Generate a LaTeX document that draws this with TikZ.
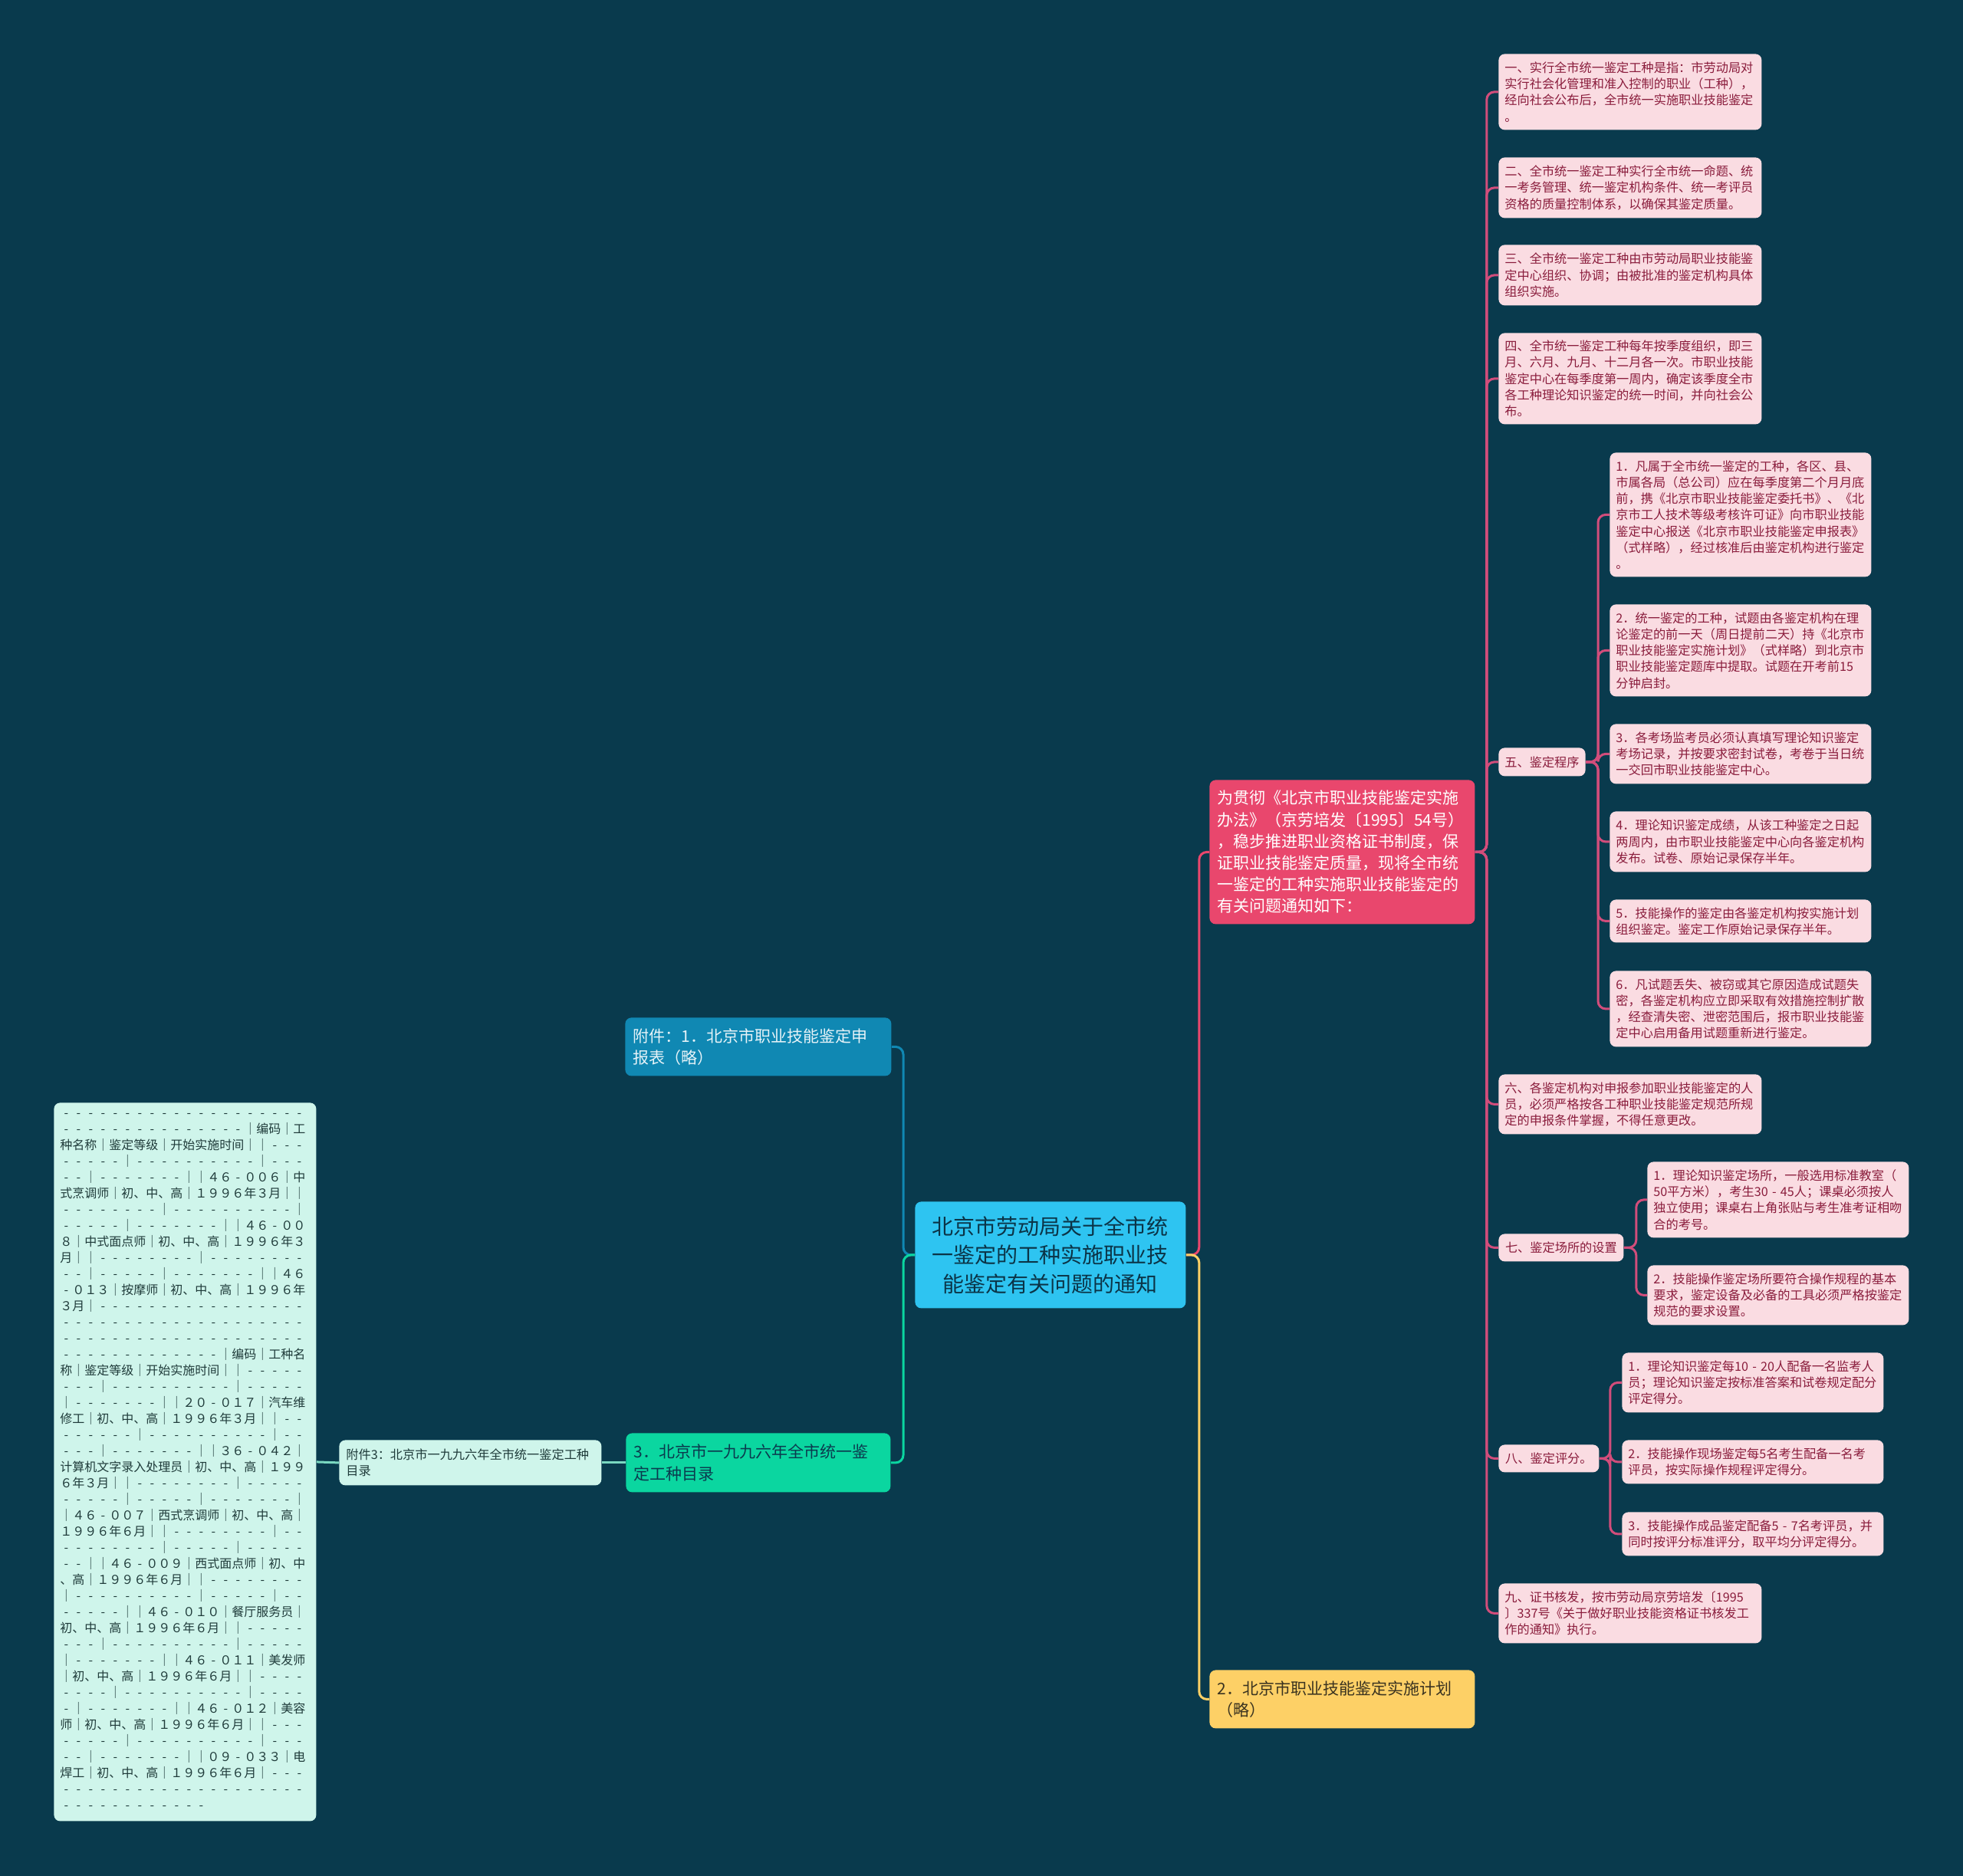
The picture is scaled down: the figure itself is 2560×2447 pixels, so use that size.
\documentclass[tikz,border=0pt]{standalone}
\usepackage{fontspec}
\setmainfont{Noto Sans CJK SC}
\setlength\parindent{0pt}
\newcommand\hy{\makebox[1em]{-}}
\ExplSyntaxOn
\cs_new:Npn \rpd #1 {\prg_replicate:nn {#1} {\hy}}
\ExplSyntaxOff
\definecolor{bgc}{HTML}{093A4D}
\definecolor{rootF}{HTML}{2EC4F1}
\definecolor{rootT}{HTML}{0B3447}
\definecolor{redF}{HTML}{E9476D}
\definecolor{pinkF}{HTML}{FADCE2}
\definecolor{pinkT}{HTML}{8A1C3C}
\definecolor{pinkL}{HTML}{D24D7B}
\definecolor{yelF}{HTML}{FDD066}
\definecolor{yelT}{HTML}{3A3320}
\definecolor{bluF}{HTML}{1088B3}
\definecolor{bluT}{HTML}{E6F3F8}
\definecolor{grnF}{HTML}{0BD6A0}
\definecolor{grnT}{HTML}{0B3A4E}
\definecolor{mintF}{HTML}{CFF5EB}
\definecolor{mintT}{HTML}{1F3B3A}
\definecolor{mintL}{HTML}{7AD8C0}
\tikzset{
  box/.style={rounded corners=4pt, anchor=north west, inner ysep=0pt, align=left},
  pinkbox/.style={box, fill=pinkF, text=pinkT, inner xsep=4pt,
    font=\fontsize{8.1pt}{10.6pt}\selectfont},
  widepink/.style={pinkbox, text width=163.5pt},
  subpink/.style={pinkbox, text width=162.5pt},
  bigbox/.style={box, inner xsep=5pt, font=\fontsize{10.5pt}{14.1pt}\selectfont, text width=163pt},
  conn/.style={line width=1.5pt, rounded corners=5pt},
}
\begin{document}
\begin{tikzpicture}[x=0.5pt,y=-0.5pt]
\fill[bgc] (0,0) rectangle (2560,2447);
\useasboundingbox (0,0) rectangle (2560,2447);

% root
\node[box, fill=rootF, text=rootT, align=center, inner xsep=8pt, text width=160.5pt,
  minimum height=69.5pt, font=\fontsize{14pt}{18.75pt}\selectfont] (root) at (1193,1567)
  {北京市劳动局关于全市统\\一鉴定的工种实施职业技\\能鉴定有关问题的通知};

% left branch
\node[bigbox, fill=bluF, text=bluT, text width=163.5pt, minimum height=38pt] (att1) at (815,1327)
  {附件：1．北京市职业技能鉴定申\\报表（略）};
\node[bigbox, fill=grnF, text=grnT, text width=162.5pt, minimum height=38.5pt] (att3p) at (816,1869)
  {3．北京市一九九六年全市统一鉴\\定工种目录};
\node[box, fill=mintF, text=mintT, inner xsep=4.5pt, text width=162pt, minimum height=29.5pt,
  font=\fontsize{8.1pt}{10.8pt}\selectfont] (att3) at (442,1878)
  {附件3：北京市一九九六年全市统一鉴定工种\\目录};
\node[box, fill=mintF, text=mintT, inner xsep=4pt, text width=163pt, minimum height=468.5pt,
  font=\fontsize{8pt}{10.5pt}\selectfont] (tbl) at (70,1438)
  {\rpd{20}\\
   \rpd{15}｜编码｜工\\
   种名称｜鉴定等级｜开始实施时间｜｜\rpd{3}\\
   \rpd{5}｜\rpd{10}｜\rpd{3}\\
   \rpd{2}｜\rpd{7}｜｜４６\hy００６｜中\\
   式烹调师｜初、中、高｜１９９６年３月｜｜\\
   \rpd{8}｜\rpd{10}｜\\
   \rpd{5}｜\rpd{7}｜｜４６\hy００\\
   ８｜中式面点师｜初、中、高｜１９９６年３\\
   月｜｜\rpd{8}｜\rpd{8}\\
   \rpd{2}｜\rpd{5}｜\rpd{7}｜｜４６\\
   \hy０１３｜按摩师｜初、中、高｜１９９６年\\
   ３月｜\rpd{17}\\
   \rpd{20}\\
   \rpd{20}\\
   \rpd{13}｜编码｜工种名\\
   称｜鉴定等级｜开始实施时间｜｜\rpd{5}\\
   \rpd{3}｜\rpd{10}｜\rpd{5}\\
   ｜\rpd{7}｜｜２０\hy０１７｜汽车维\\
   修工｜初、中、高｜１９９６年３月｜｜\rpd{2}\\
   \rpd{6}｜\rpd{10}｜\rpd{2}\\
   \rpd{3}｜\rpd{7}｜｜３６\hy０４２｜\\
   计算机文字录入处理员｜初、中、高｜１９９\\
   ６年３月｜｜\rpd{8}｜\rpd{5}\\
   \rpd{5}｜\rpd{5}｜\rpd{7}｜\\
   ｜４６\hy００７｜西式烹调师｜初、中、高｜\\
   １９９６年６月｜｜\rpd{8}｜\rpd{2}\\
   \rpd{8}｜\rpd{5}｜\rpd{5}\\
   \rpd{2}｜｜４６\hy００９｜西式面点师｜初、中\\
   、高｜１９９６年６月｜｜\rpd{8}\\
   ｜\rpd{10}｜\rpd{5}｜\rpd{2}\\
   \rpd{5}｜｜４６\hy０１０｜餐厅服务员｜\\
   初、中、高｜１９９６年６月｜｜\rpd{5}\\
   \rpd{3}｜\rpd{10}｜\rpd{5}\\
   ｜\rpd{7}｜｜４６\hy０１１｜美发师\\
   ｜初、中、高｜１９９６年６月｜｜\rpd{4}\\
   \rpd{4}｜\rpd{10}｜\rpd{4}\\
   \hy｜\rpd{7}｜｜４６\hy０１２｜美容\\
   师｜初、中、高｜１９９６年６月｜｜\rpd{3}\\
   \rpd{5}｜\rpd{10}｜\rpd{3}\\
   \rpd{2}｜\rpd{7}｜｜０９\hy０３３｜电\\
   焊工｜初、中、高｜１９９６年６月｜\rpd{3}\\
   \rpd{20}\\
   \rpd{12}};

% right branch
\node[bigbox, fill=redF, text=white, minimum height=94pt] (red) at (1577,1017)
  {为贯彻《北京市职业技能鉴定实施\\办法》（京劳培发〔1995〕54号）\\，稳步推进职业资格证书制度，保\\证职业技能鉴定质量，现将全市统\\一鉴定的工种实施职业技能鉴定的\\有关问题通知如下：};
\node[bigbox, fill=yelF, text=yelT, minimum height=38pt] (plan) at (1577,2178)
  {2．北京市职业技能鉴定实施计划\\（略）};

% level 3 (pink)
\node[widepink, minimum height=49.5pt] (p1) at (1954,70)
  {一、实行全市统一鉴定工种是指：市劳动局对\\实行社会化管理和准入控制的职业（工种），\\经向社会公布后，全市统一实施职业技能鉴定\\。};
\node[widepink, minimum height=39.5pt] (p2) at (1954,205)
  {二、全市统一鉴定工种实行全市统一命题、统\\一考务管理、统一鉴定机构条件、统一考评员\\资格的质量控制体系，以确保其鉴定质量。};
\node[widepink, minimum height=39.5pt] (p3) at (1954,319)
  {三、全市统一鉴定工种由市劳动局职业技能鉴\\定中心组织、协调；由被批准的鉴定机构具体\\组织实施。};
\node[widepink, minimum height=59.5pt] (p4) at (1954,434)
  {四、全市统一鉴定工种每年按季度组织，即三\\月、六月、九月、十二月各一次。市职业技能\\鉴定中心在每季度第一周内，确定该季度全市\\各工种理论知识鉴定的统一时间，并向社会公\\布。};
\node[pinkbox, minimum height=18.5pt, minimum width=56.5pt] (p5) at (1954,975)
  {五、鉴定程序};
\node[widepink, minimum height=39pt] (p6) at (1954,1401)
  {六、各鉴定机构对申报参加职业技能鉴定的人\\员，必须严格按各工种职业技能鉴定规范所规\\定的申报条件掌握，不得任意更改。};
\node[pinkbox, minimum height=18pt, minimum width=81.5pt] (p7) at (1954,1609)
  {七、鉴定场所的设置};
\node[pinkbox, minimum height=18pt, minimum width=65.5pt] (p8) at (1954,1884)
  {八、鉴定评分。};
\node[widepink, minimum height=39pt] (p9) at (1954,2065)
  {九、证书核发，按市劳动局京劳培发〔1995\\〕337号《关于做好职业技能资格证书核发工\\作的通知》执行。};

% level 4 under 五
\node[subpink, minimum height=81pt] (s1) at (2099,590)
  {1．凡属于全市统一鉴定的工种，各区、县、\\市属各局（总公司）应在每季度第二个月月底\\前，携《北京市职业技能鉴定委托书》、《北\\京市工人技术等级考核许可证》向市职业技能\\鉴定中心报送《北京市职业技能鉴定申报表》\\（式样略），经过核准后由鉴定机构进行鉴定\\。};
\node[subpink, minimum height=60pt] (s2) at (2099,788)
  {2．统一鉴定的工种，试题由各鉴定机构在理\\论鉴定的前一天（周日提前二天）持《北京市\\职业技能鉴定实施计划》（式样略）到北京市\\职业技能鉴定题库中提取。试题在开考前15\\分钟启封。};
\node[subpink, minimum height=39pt] (s3) at (2099,944)
  {3．各考场监考员必须认真填写理论知识鉴定\\考场记录，并按要求密封试卷，考卷于当日统\\一交回市职业技能鉴定中心。};
\node[subpink, minimum height=39.5pt] (s4) at (2099,1058)
  {4．理论知识鉴定成绩，从该工种鉴定之日起\\两周内，由市职业技能鉴定中心向各鉴定机构\\发布。试卷、原始记录保存半年。};
\node[subpink, minimum height=28pt] (s5) at (2099,1173)
  {5．技能操作的鉴定由各鉴定机构按实施计划\\组织鉴定。鉴定工作原始记录保存半年。};
\node[subpink, minimum height=49.5pt] (s6) at (2099,1266)
  {6．凡试题丢失、被窃或其它原因造成试题失\\密，各鉴定机构应立即采取有效措施控制扩散\\，经查清失密、泄密范围后，报市职业技能鉴\\定中心启用备用试题重新进行鉴定。};

% level 4 under 七
\node[subpink, minimum height=49.5pt] (q1) at (2148,1515)
  {1．理论知识鉴定场所，一般选用标准教室（\\50平方米），考生30\hy45人；课桌必须按人\\独立使用；课桌右上角张贴与考生准考证相吻\\合的考号。};
\node[subpink, minimum height=39pt] (q2) at (2148,1650)
  {2．技能操作鉴定场所要符合操作规程的基本\\要求，鉴定设备及必备的工具必须严格按鉴定\\规范的要求设置。};

% level 4 under 八
\node[subpink, minimum height=39pt] (r1) at (2115,1764)
  {1．理论知识鉴定每10\hy20人配备一名监考人\\员；理论知识鉴定按标准答案和试卷规定配分\\评定得分。};
\node[subpink, minimum height=28.5pt] (r2) at (2115,1878)
  {2．技能操作现场鉴定每5名考生配备一名考\\评员，按实际操作规程评定得分。};
\node[subpink, minimum height=28.5pt] (r3) at (2115,1972)
  {3．技能操作成品鉴定配备5\hy7名考评员，并\\同时按评分标准评分，取平均分评定得分。};

% connectors
\coordinate (lbus) at ([xshift=-7.5pt]root.west);
\coordinate (rbus) at ([xshift=8.5pt]root.east);
\draw[conn, draw=bluF] (root.west) -- (lbus) |- (att1.east);
\draw[conn, draw=grnF] (root.west) -- (lbus) |- (att3p.east);
\draw[conn, draw=mintL] (att3p.west) -- (att3.east);
\draw[conn, draw=mintL] (att3.west) -- (tbl.east);
\draw[conn, draw=redF] (root.east) -- (rbus) |- (red.west);
\draw[conn, draw=yelF] (root.east) -- (rbus) |- (plan.west);

\coordinate (redbus) at ([xshift=7.5pt]red.east);
\foreach \nm in {p1,p2,p3,p4,p5,p6,p7,p8,p9}
  \draw[conn, draw=pinkL] (red.east) -- (redbus) |- (\nm.west);
\coordinate (bus5) at ([xshift=8pt]p5.east);
\foreach \nm in {s1,s2,s3,s4,s5,s6}
  \draw[conn, draw=pinkL] (p5.east) -- (bus5) |- (\nm.west);
\coordinate (bus7) at ([xshift=8pt]p7.east);
\foreach \nm in {q1,q2}
  \draw[conn, draw=pinkL] (p7.east) -- (bus7) |- (\nm.west);
\coordinate (bus8) at ([xshift=7pt]p8.east);
\foreach \nm in {r1,r2,r3}
  \draw[conn, draw=pinkL] (p8.east) -- (bus8) |- (\nm.west);
\end{tikzpicture}
\end{document}
